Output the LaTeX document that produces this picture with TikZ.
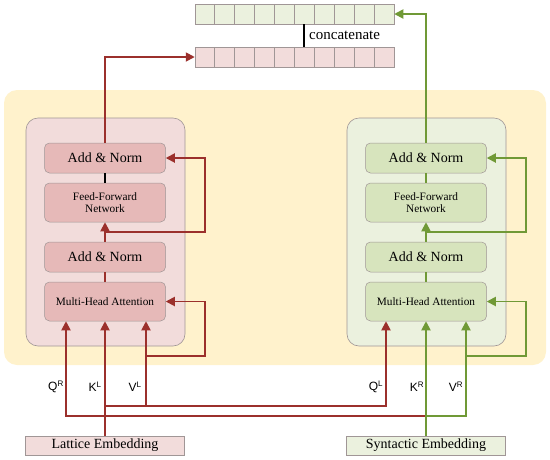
\documentclass[tikz,border=0pt]{standalone}
\usepackage{fontspec}
\setmainfont{Liberation Serif}
\newfontfamily\labfont{Liberation Sans}
\usetikzlibrary{arrows.meta,calc}
\definecolor{rline}{RGB}{155,48,44}
\definecolor{gline}{RGB}{112,153,54}
\definecolor{ybg}{RGB}{255,242,204}
\definecolor{pouter}{RGB}{242,220,219}
\definecolor{pinner}{RGB}{230,185,184}
\definecolor{gouter}{RGB}{235,241,222}
\definecolor{ginner}{RGB}{215,228,189}
\definecolor{bordgray}{RGB}{160,150,150}
\tikzset{
  x=1pt,y=-1pt,
  outerbox/.style={draw=bordgray,line width=0.6pt,rounded corners=12pt,minimum width=159pt,minimum height=228pt},
  innerbox/.style={draw=bordgray,line width=0.5pt,rounded corners=5pt,minimum width=121pt,align=center},
  anbox/.style={innerbox,minimum height=30pt,font=\fontsize{14}{15}\selectfont},
  smbox/.style={innerbox,minimum height=39pt,font=\fontsize{11.3}{12.5}\selectfont},
  embbox/.style={draw=bordgray,line width=0.5pt,minimum width=159pt,minimum height=19pt,inner sep=0pt,font=\fontsize{14}{16}\selectfont},
  barbox/.style={draw=bordgray,line width=0.5pt,minimum width=199pt,minimum height=20pt,inner sep=0pt},
  tip/.style={-{Triangle[length=9pt,width=9pt]}},
  rarr/.style={draw=rline,line width=1.8pt,tip},
  garr/.style={draw=gline,line width=1.8pt,tip},
  rl/.style={draw=rline,line width=1.8pt},
  gl/.style={draw=gline,line width=1.8pt},
  lab/.style={font=\labfont\fontsize{12}{14}\selectfont,inner sep=0pt}
}
\begin{document}
\begin{tikzpicture}
\useasboundingbox (0,0) rectangle (550,459);
% background
\fill[ybg,rounded corners=13pt] (4,90) rectangle (546,365);
% outer boxes
\node[outerbox,fill=pouter] (lout) at (105.5,232) {};
\node[outerbox,fill=gouter] (rout) at (426.5,232) {};
% left stack
\node[anbox,fill=pinner] (an1) at (105,158) {Add \& Norm};
\node[smbox,fill=pinner] (ffn) at (105,202.5) {Feed-Forward\\Network};
\node[anbox,fill=pinner] (an2) at (105,257) {Add \& Norm};
\node[smbox,fill=pinner] (mha) at (105,301.5) {Multi-Head Attention};
% right stack
\node[anbox,fill=ginner] (gan1) at (426,158) {Add \& Norm};
\node[smbox,fill=ginner] (gffn) at (426,202.5) {Feed-Forward\\Network};
\node[anbox,fill=ginner] (gan2) at (426,257) {Add \& Norm};
\node[smbox,fill=ginner] (gmha) at (426,301.5) {Multi-Head Attention};
% embeddings
\node[embbox,fill=pouter] (lat) at (105,445.5) {Lattice Embedding};
\node[embbox,fill=gouter] (syn) at (426,445.5) {Syntactic Embedding};
% bars
\node[barbox,fill=gouter] (gbar) at (294.5,14) {};
\node[barbox,fill=pouter] (pbar) at (294.5,57) {};
\foreach \i in {1,...,9}{
  \draw[bordgray,line width=0.5pt] ($(gbar.north west)+(19.9*\i,0)$) -- ($(gbar.south west)+(19.9*\i,0)$);
  \draw[bordgray,line width=0.5pt] ($(pbar.north west)+(19.9*\i,0)$) -- ($(pbar.south west)+(19.9*\i,0)$);
}
\draw[black,line width=1.3pt] (gbar.south -| 304,0) -- (pbar.north -| 304,0);
\node[anchor=west,inner sep=0pt,font=\fontsize{15}{17}\selectfont] (cat) at (309,35) {concatenate};
% outputs to bars
\draw[rarr] (an1.north) |- (pbar.west);
\draw[garr] (gan1.north) |- (gbar.east);
% internal connections
\draw[black,line width=1.3pt] (ffn.north) -- (an1.south);
\draw[gl] (gffn.north) -- (gan1.south);
\draw[rarr] (an2.north) -- (ffn.south);
\draw[garr] (gan2.north) -- (gffn.south);
\draw[rl] (mha.north) -- (an2.south);
\draw[gl] (gmha.north) -- (gan2.south);
% coordinates
\coordinate (lx) at (205,0);
\coordinate (rx) at (526,0);
\coordinate (lr1) at (105,232);
\coordinate (rr1) at (426,232);
\coordinate (kL) at (105,406);
\coordinate (qr) at (426,416);
\coordinate (mhaQ) at ([xshift=-39pt]mha.south);
\coordinate (mhaV) at ([xshift=41pt]mha.south);
\coordinate (gmhaQ) at ([xshift=-40pt]gmha.south);
\coordinate (gmhaV) at ([xshift=40pt]gmha.south);
\coordinate (resy) at (0,356);
% residual loops
\draw[rarr] (lr1) -- (lr1 -| lx) |- (an1.east);
\draw[garr] (rr1) -- (rr1 -| rx) |- (gan1.east);
\draw[rarr] (mhaV |- resy) -- (resy -| lx) |- (mha.east);
\draw[garr] (gmhaV |- resy) -- (resy -| rx) |- (gmha.east);
% inputs
\draw[rarr] (lat.north) -- (mha.south);
\draw[rarr] (kL) -| (gmhaQ);
\draw[rarr] (mhaV |- kL) -- (mhaV);
\draw[rarr] (qr) -| (mhaQ);
\draw[garr] (syn.north) -- (gmha.south);
\draw[garr] (qr) -| (gmhaV);
% labels
\node[lab] (lq) at (56,387) {Q\textsuperscript{R}};
\node[lab] (lk) at (95,387) {K\textsuperscript{L}};
\node[lab] (lv) at (135,387) {V\textsuperscript{L}};
\node[lab] (rq) at (376,387) {Q\textsuperscript{L}};
\node[lab] (rk) at (417,387) {K\textsuperscript{R}};
\node[lab] (rv) at (456,387) {V\textsuperscript{R}};
\end{tikzpicture}
\end{document}
